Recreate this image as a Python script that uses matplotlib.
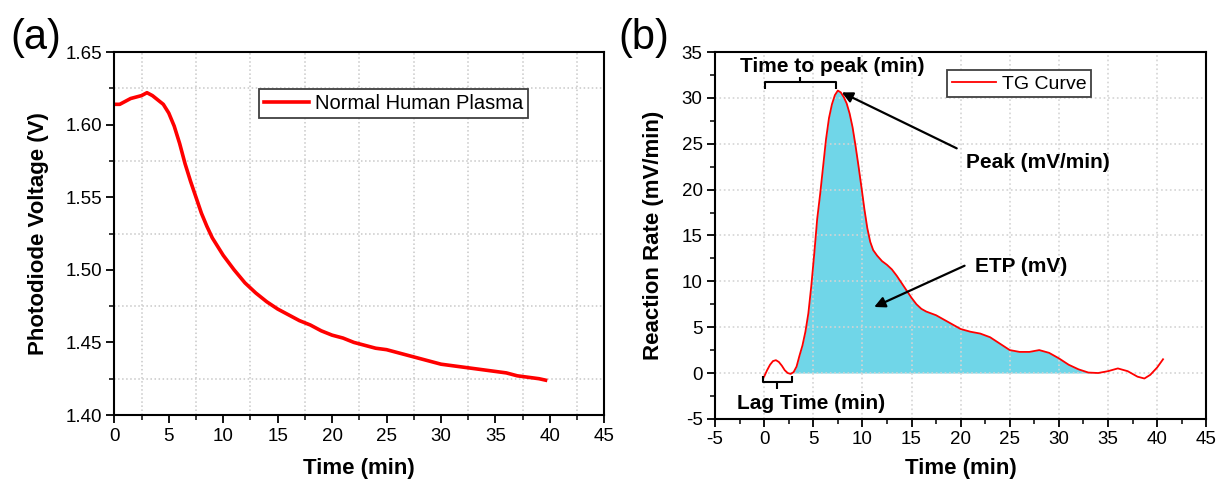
import numpy as np
from matplotlib import pyplot as plt
from matplotlib.ticker import MultipleLocator

plt.rcParams["font.family"] = ["Liberation Sans", "DejaVu Sans"]
plt.rcParams["axes.unicode_minus"] = False

# panel (a): photodiode voltage vs time
time_a = [0, 0.5, 1.0, 1.5, 2.0, 2.5, 3.0, 3.5, 4.0, 4.5, 5.0, 5.5, 6.0, 6.5,
          7.0, 7.5, 8.0, 8.5, 9.0, 9.5, 10, 11, 12, 13, 14, 15, 16, 17, 18,
          19, 20, 21, 22, 23, 24, 25, 26, 27, 28, 29, 30, 31, 32, 33, 34, 35,
          36, 37, 38, 39, 39.6]
volt_a = [1.614, 1.614, 1.616, 1.618, 1.619, 1.620, 1.622, 1.620, 1.617,
          1.614, 1.608, 1.599, 1.587, 1.573, 1.561, 1.550, 1.539, 1.530,
          1.522, 1.516, 1.510, 1.500, 1.491, 1.484, 1.478, 1.473, 1.469,
          1.465, 1.462, 1.458, 1.455, 1.453, 1.450, 1.448, 1.446, 1.445,
          1.443, 1.441, 1.439, 1.437, 1.435, 1.434, 1.433, 1.432, 1.431,
          1.430, 1.429, 1.427, 1.426, 1.425, 1.424]

# panel (b): thrombin generation curve
time_b = [0, 0.3, 0.6, 0.9, 1.2, 1.5, 1.8, 2.1, 2.4, 2.7, 3.0, 3.3, 3.6, 3.9,
          4.2, 4.5, 4.8, 5.1, 5.4, 5.7, 6.0, 6.3, 6.6, 6.9, 7.2, 7.5, 7.8,
          8.1, 8.4, 8.7, 9.0, 9.3, 9.6, 9.9, 10.2, 10.5, 10.8, 11.1, 11.5,
          12.0, 12.5, 13.0, 13.5, 14.0, 14.5, 15.0, 15.5, 16.0, 16.5, 17.0,
          17.5, 18, 19, 20, 21, 22, 23, 24, 25, 26, 27, 28, 29, 30, 31, 32,
          33, 34, 35, 36, 37, 38, 38.7, 39.3, 40, 40.6]
rate_b = [-0.4, 0.3, 0.9, 1.3, 1.4, 1.2, 0.8, 0.3, 0.0, -0.1, 0.1, 0.7, 1.9,
          3.0, 4.5, 6.5, 9.5, 13.0, 16.8, 19.5, 22.5, 25.5, 27.8, 29.3, 30.3,
          30.8, 30.6, 30.1, 29.4, 28.3, 26.8, 24.8, 22.6, 20.3, 17.9, 15.8,
          14.3, 13.4, 12.8, 12.2, 11.8, 11.3, 10.6, 9.8, 9.0, 8.2, 7.5, 7.0,
          6.7, 6.5, 6.3, 6.0, 5.4, 4.8, 4.5, 4.3, 3.9, 3.2, 2.5, 2.3, 2.3,
          2.5, 2.2, 1.6, 0.9, 0.4, 0.05, 0.0, 0.2, 0.5, 0.2, -0.4, -0.6,
          -0.2, 0.6, 1.5]
etp_start, etp_end = 2.7, 33.6


def style_axes(ax, xmaj, ymaj):
    ax.xaxis.set_major_locator(MultipleLocator(xmaj))
    ax.xaxis.set_minor_locator(MultipleLocator(xmaj / 2))
    ax.yaxis.set_major_locator(MultipleLocator(ymaj))
    ax.yaxis.set_minor_locator(MultipleLocator(ymaj / 2))
    ax.tick_params(which="major", direction="out", length=6, width=1.3,
                   labelsize=13.5, pad=3)
    ax.tick_params(which="minor", direction="out", length=3.5, width=1.1)
    for sp in ax.spines.values():
        sp.set_linewidth(1.5)


fig = plt.figure(figsize=(12.16, 4.82), dpi=100)
ax1 = fig.add_axes([0.094, 0.139, 0.403, 0.753])
ax2 = fig.add_axes([0.588, 0.131, 0.404, 0.761])

# ---- (a)
ax1.plot(time_a, volt_a, color="#ff0000", lw=2.6, label="Normal Human Plasma")
ax1.set_xlim(0, 45)
ax1.set_ylim(1.40, 1.65)
style_axes(ax1, 5, 0.05)
ax1.yaxis.set_major_formatter(lambda v, p: f"{v:.2f}")
ax1.grid(which="minor", color="#c8c8c8", ls=":", lw=1.1)
ax1.set_xlabel("Time (min)", fontsize=16, fontweight="bold")
ax1.set_ylabel("Photodiode Voltage (V)", fontsize=16, fontweight="bold")
ax1.xaxis.set_label_coords(0.5, -0.118)
ax1.yaxis.set_label_coords(-0.133, 0.5)
leg1 = ax1.legend(loc="upper left", bbox_to_anchor=(0.296, 0.898),
                  borderaxespad=0, fontsize=14.5, fancybox=False,
                  edgecolor="#404040", framealpha=1, handlelength=2.2,
                  handletextpad=0.3, borderpad=0.25)
leg1.get_frame().set_linewidth(1.3)

# ---- (b)
xb = np.array(time_b)
yb = np.array(rate_b)
mask = (xb >= etp_start) & (xb <= etp_end)
ax2.fill_between(xb, yb, 0, where=mask & (yb >= 0), interpolate=True,
                 color="#70d6e8", lw=0, zorder=1)
ax2.plot(xb, yb, color="#ff0000", lw=1.3, label="TG Curve", zorder=3)
ax2.set_xlim(-5, 45)
ax2.set_ylim(-5, 35)
style_axes(ax2, 5, 5)
ax2.grid(which="major", color="#d4d4d4", ls=":", lw=1.2)
ax2.set_xlabel("Time (min)", fontsize=16, fontweight="bold")
ax2.set_ylabel("Reaction Rate (mV/min)", fontsize=16, fontweight="bold")
ax2.xaxis.set_label_coords(0.5, -0.106)
ax2.yaxis.set_label_coords(-0.104, 0.5)
leg2 = ax2.legend(loc="upper left", bbox_to_anchor=(0.4725, 0.951),
                  borderaxespad=0, fontsize=14, fancybox=False,
                  edgecolor="#404040", framealpha=1, handlelength=2.25,
                  handletextpad=0.3, borderpad=0.25)
leg2.get_frame().set_linewidth(1.3)

# brackets
bk = dict(color="black", lw=1.5, solid_capstyle="butt", zorder=4)
ax2.plot([0.1, 0.1, 7.35, 7.35], [31.0, 31.7, 31.7, 31.0], **bk)
ax2.plot([3.7, 3.7], [31.7, 32.3], **bk)
ax2.plot([-0.1, -0.1, 2.85, 2.85], [-0.3, -1.0, -1.0, -0.3], **bk)
ax2.plot([1.35, 1.35], [-1.0, -1.7], **bk)

ann = dict(fontsize=15, fontweight="bold")
ax2.text(6.9, 33.4, "Time to peak (min)", ha="center", va="center", **ann)
ax2.text(4.8, -3.3, "Lag Time (min)", ha="center", va="center", **ann)
arr = dict(arrowstyle="-|>", color="black", lw=1.6, mutation_scale=16,
           shrinkA=0, shrinkB=0)
ax2.annotate("", xy=(7.9, 30.6), xytext=(19.6, 24.5), arrowprops=arr)
ax2.text(20.5, 23.0, "Peak (mV/min)", ha="left", va="center", **ann)
ax2.annotate("", xy=(11.2, 7.2), xytext=(20.4, 11.7), arrowprops=arr)
ax2.text(21.5, 11.6, "ETP (mV)", ha="left", va="center", **ann)

fig.text(36 / 1216, 1 - 38 / 482, "(a)", fontsize=30, ha="center", va="center")
fig.text(644 / 1216, 1 - 38 / 482, "(b)", fontsize=30, ha="center", va="center")

fig.savefig("out.png", dpi=100)
